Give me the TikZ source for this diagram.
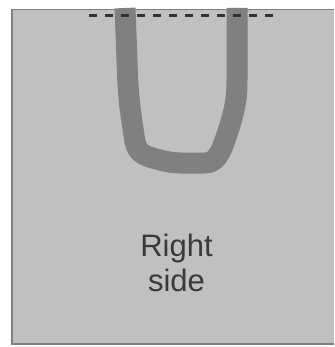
\documentclass[tikz,border=0pt]{standalone}
\usepackage{fontspec}
\setmainfont{Liberation Sans}
\definecolor{panel}{HTML}{C0C0C0}
\definecolor{edge}{HTML}{808080}
\definecolor{ushape}{HTML}{808080}
\definecolor{dashc}{HTML}{333333}
\definecolor{txt}{HTML}{3A3A3A}
\tikzset{
  panelfill/.style={fill=panel},
  paneledge/.style={draw=edge,line width=1.5pt},
  ustroke/.style={draw=ushape,line width=21pt,line cap=butt,line join=round},
  foldline/.style={draw=dashc,line width=3pt,dash pattern=on 8pt off 8pt},
  label/.style={text=txt,font=\fontsize{31pt}{35pt}\selectfont,align=center,inner sep=0pt}
}
\begin{document}
\begin{tikzpicture}[x=1pt,y=1pt]
\useasboundingbox (0,0) rectangle (334,-347);
\fill[panelfill] (12,-9.5) rectangle (334,-344);
\draw[paneledge] (334,-9.5) -- (12,-9.5) -- (12,-344) -- (334,-344);
\draw[ustroke] (125,-8) -- (127,-60) .. controls (128,-100) and (131,-115) .. (134,-135)
  .. controls (136,-152) and (140,-155) .. (160,-160)
  .. controls (175,-164) and (185,-163) .. (205,-163)
  .. controls (218,-163) and (222,-150) .. (230,-125)
  .. controls (236,-105) and (237,-95) .. (237,-80) -- (237,-8);
\draw[foldline] (89,-15.5) -- (275,-15.5);
\node[label,anchor=base] (side) at (176.5,-291) {Right\\side};
\end{tikzpicture}
\end{document}
